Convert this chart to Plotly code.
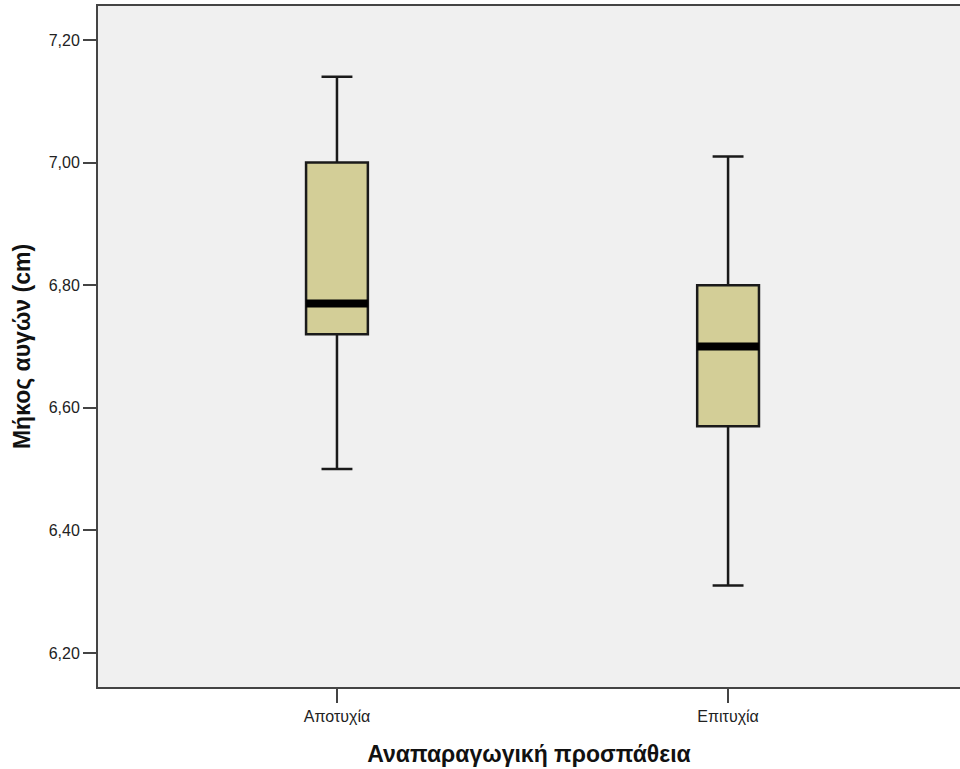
import plotly.graph_objects as go

# Egg length by reproductive outcome (five-number summaries)
categories = ["Αποτυχία", "Επιτυχία"]
lower_whisker = [6.50, 6.31]
q1_values = [6.72, 6.57]
median_values = [6.77, 6.70]
q3_values = [7.00, 6.80]
upper_whisker = [7.14, 7.01]

y_ticks = [6.20, 6.40, 6.60, 6.80, 7.00, 7.20]

positions = list(range(len(categories)))
box_width = 0.158
fill = "#D3CE97"
edge = "#1a1a1a"

fig = go.Figure()
fig.add_trace(go.Box(
    x=positions,
    q1=q1_values,
    median=median_values,
    q3=q3_values,
    lowerfence=lower_whisker,
    upperfence=upper_whisker,
    width=box_width,
    whiskerwidth=0.5,
    fillcolor=fill,
    line=dict(color=edge, width=2.5),
    boxpoints=False,
    hoverinfo="skip",
    showlegend=False,
))

# thick median bars
for pos, med in zip(positions, median_values):
    fig.add_shape(
        type="line", xref="x", yref="y",
        x0=pos - box_width / 2, x1=pos + box_width / 2,
        y0=med, y1=med,
        line=dict(color="black", width=8),
    )

font_family = "Liberation Sans, Arial, sans-serif"

fig.update_layout(
    width=960, height=769,
    margin=dict(l=98, r=0, t=6, b=82),
    paper_bgcolor="white",
    plot_bgcolor="#F0F0F0",
    separators=",.",
    font=dict(family=font_family, size=16, color="#222"),
    xaxis=dict(
        range=[-0.611, 1.593],
        tickvals=positions,
        ticktext=categories,
        ticks="outside", ticklen=14, tickwidth=2, tickcolor="#444",
        showline=True, linecolor="#444", linewidth=2, mirror=True,
        showgrid=False, zeroline=False,
        tickfont=dict(size=16, color="#222"),
        title=dict(text="<b>Αναπαραγωγική προσπάθεια</b>",
                   font=dict(size=23, color="#111"), standoff=22),
    ),
    yaxis=dict(
        range=[6.1445, 7.2555],
        tickvals=y_ticks,
        tickformat=".2f",
        ticks="outside", ticklen=13, tickwidth=2, tickcolor="#444",
        showline=True, linecolor="#444", linewidth=2,
        showgrid=False, zeroline=False,
        tickfont=dict(size=16, color="#222"),
        title=dict(text="<b>Μήκος αυγών (cm)</b>",
                   font=dict(size=23, color="#111"), standoff=12),
    ),
)

fig.write_html("out.html")
